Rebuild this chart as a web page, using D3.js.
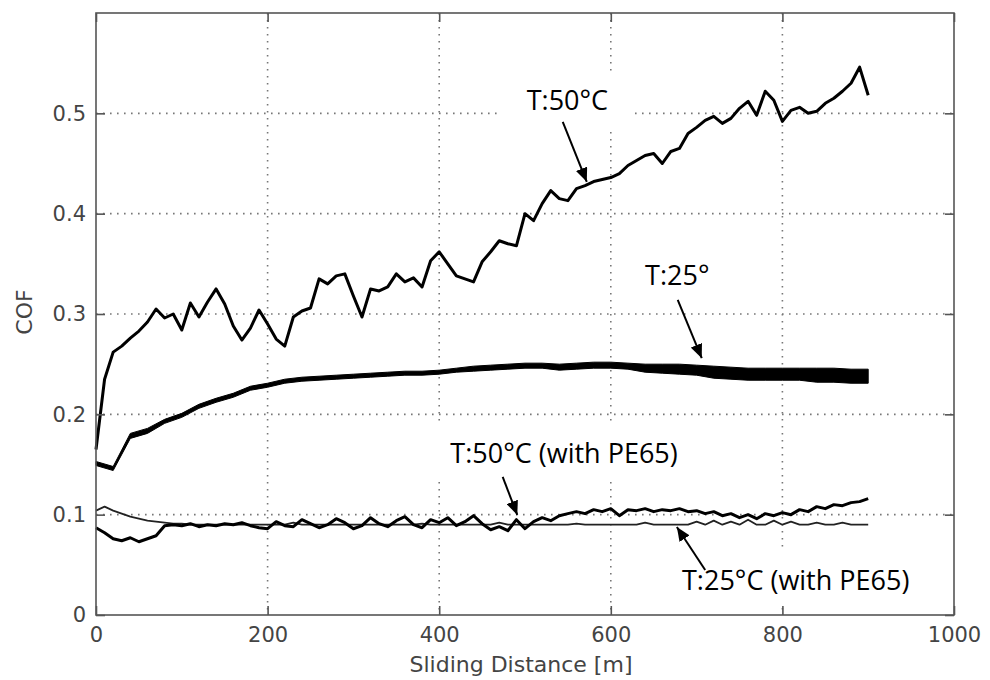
<!DOCTYPE html>
<html>
<head>
<meta charset="utf-8">
<script src="https://cdn.jsdelivr.net/npm/d3@7"></script>
<style>
  body { margin: 0; background: #fff; }
  svg { display: block; }
</style>
</head>
<body>
<div id="chart"></div>
<script>
// Sample positions along the sliding distance (m)
const distance10 = [0,10,20,30,40,50,60,70,80,90,100,110,120,130,140,150,160,170,180,190,
  200,210,220,230,240,250,260,270,280,290,300,310,320,330,340,350,360,370,380,390,
  400,410,420,430,440,450,460,470,480,490,500,510,520,530,540,550,560,570,580,590,
  600,610,620,630,640,650,660,670,680,690,700,710,720,730,740,750,760,770,780,790,
  800,810,820,830,840,850,860,870,880,890,900]
const distance20 = [0,20,40,60,80,100,120,140,160,180,200,220,240,260,280,300,320,340,360,380,
  400,420,440,460,480,500,520,540,560,580,600,620,640,660,680,700,720,740,760,780,
  800,820,840,860,880,900]

// T:50°C
const cof50 = [0.165,0.235,0.262,0.268,0.276,0.283,0.292,0.305,0.296,0.300,
  0.284,0.311,0.297,0.312,0.325,0.310,0.288,0.274,0.286,0.304,
  0.290,0.275,0.268,0.297,0.303,0.306,0.335,0.330,0.338,0.340,
  0.318,0.297,0.325,0.323,0.327,0.340,0.332,0.336,0.327,0.353,
  0.362,0.350,0.338,0.335,0.332,0.352,0.362,0.373,0.370,0.368,
  0.400,0.393,0.410,0.423,0.415,0.413,0.425,0.428,0.432,0.434,
  0.436,0.440,0.448,0.453,0.458,0.460,0.450,0.462,0.465,0.480,
  0.486,0.493,0.497,0.490,0.495,0.505,0.512,0.498,0.522,0.513,
  0.492,0.503,0.506,0.500,0.502,0.510,0.515,0.522,0.530,0.546,0.518]

// T:25° (noise band, upper and lower envelope)
const cof25Hi = [0.153,0.148,0.181,0.186,0.195,0.201,0.210,0.216,0.221,0.228,
  0.231,0.235,0.237,0.238,0.239,0.240,0.241,0.242,0.243,0.243,
  0.244,0.246,0.248,0.249,0.250,0.251,0.251,0.250,0.251,0.252,
  0.252,0.251,0.250,0.250,0.250,0.249,0.248,0.247,0.246,0.246,
  0.246,0.246,0.246,0.246,0.245,0.245]
const cof25Lo = [0.149,0.144,0.176,0.181,0.191,0.197,0.206,0.212,0.217,0.224,
  0.227,0.231,0.233,0.234,0.235,0.236,0.237,0.238,0.239,0.239,
  0.240,0.242,0.243,0.244,0.245,0.246,0.246,0.244,0.245,0.246,
  0.246,0.245,0.242,0.241,0.240,0.239,0.236,0.235,0.234,0.234,
  0.234,0.234,0.232,0.232,0.231,0.231]

// T:50°C (with PE65)
const cof50pe = [0.087,0.082,0.076,0.074,0.077,0.073,0.076,0.079,0.089,0.090,
  0.089,0.091,0.088,0.090,0.089,0.091,0.090,0.092,0.089,0.087,
  0.086,0.093,0.089,0.088,0.095,0.091,0.087,0.090,0.096,0.092,
  0.086,0.089,0.097,0.091,0.088,0.094,0.098,0.090,0.087,0.095,
  0.092,0.097,0.089,0.093,0.099,0.091,0.085,0.088,0.084,0.095,
  0.086,0.093,0.097,0.094,0.099,0.101,0.103,0.101,0.105,0.103,
  0.106,0.099,0.105,0.104,0.106,0.103,0.105,0.104,0.106,0.103,
  0.104,0.101,0.103,0.099,0.101,0.097,0.100,0.096,0.101,0.099,
  0.102,0.100,0.105,0.103,0.108,0.106,0.110,0.109,0.112,0.113,0.116]

// T:25°C (with PE65)
const cof25pe = [0.104,0.108,0.104,0.101,0.098,0.096,0.094,0.093,0.092,0.091,
  0.091,0.090,0.090,0.090,0.090,0.090,0.090,0.090,0.090,0.090,
  0.090,0.090,0.090,0.092,0.090,0.090,0.090,0.090,0.090,0.090,
  0.090,0.090,0.090,0.090,0.090,0.090,0.090,0.090,0.091,0.090,
  0.090,0.090,0.090,0.090,0.090,0.090,0.090,0.092,0.090,0.090,
  0.090,0.090,0.090,0.090,0.090,0.090,0.091,0.090,0.090,0.090,
  0.090,0.090,0.090,0.090,0.092,0.090,0.090,0.090,0.090,0.090,
  0.093,0.090,0.094,0.090,0.093,0.090,0.095,0.090,0.090,0.094,
  0.090,0.093,0.090,0.090,0.092,0.090,0.090,0.092,0.090,0.090,0.090]

// Axis ticks
const xTicks = [0, 200, 400, 600, 800, 1000]
const xTickLabels = ["0", "200", "400", "600", "800", "1000"]
const yTicks = [0, 0.1, 0.2, 0.3, 0.4, 0.5]
const yTickLabels = ["0", "0.1", "0.2", "0.3", "0.4", "0.5"]

// Annotations, anchored in data coordinates
const annotations = [
  {text: "T:50°C",             tx: 502, ty: 0.503,  from: [544, 0.4915], to: [572, 0.4317]},
  {text: "T:25°",              tx: 640, ty: 0.329,  from: [678, 0.314],  to: [706, 0.256]},
  {text: "T:50°C (with PE65)", tx: 413, ty: 0.1515, from: [474, 0.1376], to: [491, 0.0997]},
  {text: "T:25°C (with PE65)", tx: 683, ty: 0.0249, from: [710, 0.0449], to: [677, 0.0877]}
]

function drawChart() {
    const width = 990, height = 680
    const left = 96, right = 954, top = 13, bottom = 615

    const svg = d3.select("#chart").append("svg")
        .attr("width", width)
        .attr("height", height)

    // Scales
    const x = d3.scaleLinear().domain([0, 1000]).range([left, right])
    const y = d3.scaleLinear().domain([0, 0.6]).range([bottom, top])

    // Dotted grid
    const grid = svg.append("g")
        .attr("stroke", "#777")
        .attr("stroke-width", 1.6)
        .attr("stroke-dasharray", "1.6,5.4")
    grid.selectAll(".gx").data(xTicks.slice(1, -1)).enter().append("line")
        .attr("x1", d => x(d)).attr("x2", d => x(d))
        .attr("y1", top).attr("y2", bottom)
    grid.selectAll(".gy").data(yTicks.slice(1)).enter().append("line")
        .attr("x1", left).attr("x2", right)
        .attr("y1", d => y(d)).attr("y2", d => y(d))

    // White boxes behind the annotation texts (they hide the grid)
    const boxLayer = svg.append("g")

    // T:25° band
    const band = distance20.map((d, i) => ({x: d, lo: cof25Lo[i], hi: cof25Hi[i]}))
    svg.append("path")
        .datum(band)
        .attr("fill", "#000")
        .attr("stroke", "#000")
        .attr("stroke-width", 1)
        .attr("d", d3.area().x(d => x(d.x)).y0(d => y(d.lo)).y1(d => y(d.hi)))

    // Line series
    const line = d3.line().x(d => x(d[0])).y(d => y(d[1]))
    const series = [
        {values: cof25pe, width: 1.8, color: "#222"},
        {values: cof50pe, width: 3,   color: "#000"},
        {values: cof50,   width: 3,   color: "#000"}
    ]
    series.forEach(s => {
        svg.append("path")
            .datum(distance10.map((d, i) => [d, s.values[i]]))
            .attr("fill", "none")
            .attr("stroke", s.color)
            .attr("stroke-width", s.width)
            .attr("stroke-linejoin", "round")
            .attr("d", line)
    })

    // Axes: labelled bottom/left, bare top/right, all ticks inward
    const axisFont = "'DejaVu Sans', sans-serif"
    const xAxis = svg.append("g")
        .attr("transform", `translate(0,${bottom})`)
        .call(d3.axisBottom(x).tickValues(xTicks).tickSize(-9).tickSizeOuter(0).tickPadding(12)
            .tickFormat((d, i) => xTickLabels[i]))
    const yAxis = svg.append("g")
        .attr("transform", `translate(${left},0)`)
        .call(d3.axisLeft(y).tickValues(yTicks).tickSize(-9).tickSizeOuter(0).tickPadding(10)
            .tickFormat((d, i) => yTickLabels[i]))
    const topAxis = svg.append("g")
        .attr("transform", `translate(0,${top})`)
        .call(d3.axisTop(x).tickValues(xTicks).tickSize(-9).tickSizeOuter(0).tickFormat(""))
    const rightAxis = svg.append("g")
        .attr("transform", `translate(${right},0)`)
        .call(d3.axisRight(y).tickValues(yTicks).tickSize(-9).tickSizeOuter(0).tickFormat(""))

    ;[xAxis, yAxis, topAxis, rightAxis].forEach(a => {
        a.select(".domain").remove()
        a.selectAll(".tick line").attr("stroke", "#555").attr("stroke-width", 1.6)
        a.selectAll(".tick text")
            .attr("fill", "#444")
            .style("font-family", axisFont)
            .style("font-size", "21px")
    })

    // Frame
    svg.append("rect")
        .attr("x", left).attr("y", top)
        .attr("width", right - left).attr("height", bottom - top)
        .attr("fill", "none")
        .attr("stroke", "#555")
        .attr("stroke-width", 1.6)

    // Axis titles
    svg.append("text")
        .attr("x", (left + right) / 2 - 4)
        .attr("y", 672)
        .attr("text-anchor", "middle")
        .attr("fill", "#444")
        .style("font-family", axisFont)
        .style("font-size", "22px")
        .text("Sliding Distance [m]")
    svg.append("text")
        .attr("transform", "translate(32,312) rotate(-90)")
        .attr("text-anchor", "middle")
        .attr("fill", "#444")
        .style("font-family", axisFont)
        .style("font-size", "22px")
        .text("COF")

    // Annotations with arrows
    svg.append("defs").append("marker")
        .attr("id", "head")
        .attr("viewBox", "0 0 14 12")
        .attr("refX", 14).attr("refY", 6)
        .attr("markerWidth", 14).attr("markerHeight", 12)
        .attr("markerUnits", "userSpaceOnUse")
        .attr("orient", "auto")
        .append("path")
        .attr("d", "M0,0 L14,6 L0,12 Z")
        .attr("fill", "#000")

    annotations.forEach(a => {
        const t = svg.append("text")
            .attr("x", x(a.tx))
            .attr("y", y(a.ty))
            .attr("fill", "#000")
            .style("font-family", "'Open Sans', sans-serif")
            .style("font-size", "27px")
            .text(a.text)
        const b = t.node().getBBox()
        boxLayer.append("rect")
            .attr("x", b.x - 26).attr("y", b.y - 10)
            .attr("width", b.width + 52).attr("height", b.height + 20)
            .attr("fill", "#fff")
        svg.append("line")
            .attr("x1", x(a.from[0])).attr("y1", y(a.from[1]))
            .attr("x2", x(a.to[0])).attr("y2", y(a.to[1]))
            .attr("stroke", "#000")
            .attr("stroke-width", 2)
            .attr("marker-end", "url(#head)")
    })
}

drawChart()
</script>
</body>
</html>
